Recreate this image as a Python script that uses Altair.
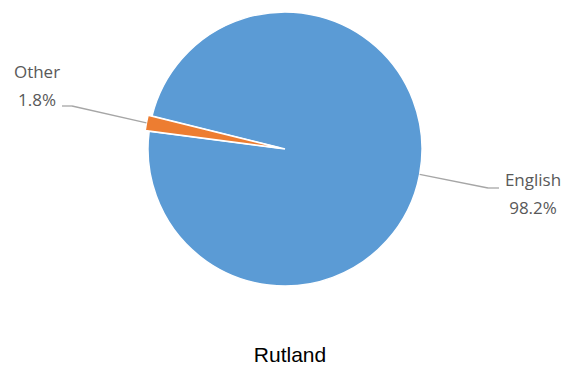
import math
import altair as alt
import pandas as pd

# ---- data ----
categories = ["English", "Other"]
values = [98.2, 1.8]
colors = ["#5B9BD5", "#ED7D31"]
chart_title = "Rutland"

# ---- layout (chart coordinates = page coordinates - 8) ----
W, H = 557, 360
CX, CY, R = 277, 141, 137
ROT_DEG = 283.9            # where the first slice starts (clockwise from 12 o'clock)
EXPLODE = 4                # px offset of the small slice
LABEL_COLOR = "#595959"
LINE_COLOR = "#A6A6A6"
FONT = "Open Sans"
FS = 17

total = sum(values)
starts, ends = [], []
acc = 0.0
for v in values:
    starts.append(acc)
    acc += v
    ends.append(acc)
df = pd.DataFrame({"cat": categories, "value": values, "start": starts, "end": ends,
                   "pct": [f"{v:.1f}%" for v in values]})

rot = math.radians(ROT_DEG)
theta_scale = alt.Scale(domain=[0, total], range=[rot, rot + 2 * math.pi])
color_scale = alt.Scale(domain=categories, range=colors)


def mid_angle(i):
    return rot + 2 * math.pi * (starts[i] + ends[i]) / 2 / total


layers = []
for i, c in enumerate(categories):
    a = mid_angle(i)
    off = EXPLODE if values[i] < 10 else 0
    dx, dy = off * math.sin(a), -off * math.cos(a)
    layers.append(
        alt.Chart(df).transform_filter(alt.datum.cat == c)
        .mark_arc(radius=R, stroke="white", strokeWidth=1.5)
        .encode(
            theta=alt.Theta("start:Q", scale=theta_scale, stack=None),
            theta2="end:Q",
            color=alt.Color("cat:N", scale=color_scale, legend=None),
            x=alt.value(CX + dx),
            y=alt.value(CY + dy),
        )
    )

# leader lines + labels
label_pos = {"English": (525, 173, 480, 180, 491), "Other": (29, 65, 64, 98, 54)}
for i, c in enumerate(categories):
    a = mid_angle(i)
    off = EXPLODE if values[i] < 10 else 0
    ex = CX + (R + off) * math.sin(a)
    ey = CY - (R + off) * math.cos(a)
    lx, ly, elx, ely, endx = label_pos[c]
    seg1 = alt.Chart(df).transform_filter(alt.datum.cat == c).mark_rule(
        color=LINE_COLOR, strokeWidth=1.3).encode(
        x=alt.value(ex), y=alt.value(ey), x2=alt.value(elx), y2=alt.value(ely))
    seg2 = alt.Chart(df).transform_filter(alt.datum.cat == c).mark_rule(
        color=LINE_COLOR, strokeWidth=1.3).encode(
        x=alt.value(elx), y=alt.value(ely), x2=alt.value(endx), y2=alt.value(ely))
    t1 = alt.Chart(df).transform_filter(alt.datum.cat == c).mark_text(
        font=FONT, fontSize=FS, color=LABEL_COLOR, align="center", baseline="middle").encode(
        text="cat:N", x=alt.value(lx), y=alt.value(ly))
    t2 = alt.Chart(df).transform_filter(alt.datum.cat == c).mark_text(
        font=FONT, fontSize=FS, color=LABEL_COLOR, align="center", baseline="middle").encode(
        text="pct:N", x=alt.value(lx), y=alt.value(ly + 28))
    layers += [seg1, seg2, t1, t2]

title = alt.Chart(pd.DataFrame({"t": [chart_title]})).mark_text(
    font="Liberation Sans", fontSize=21, color="#000000", align="center", baseline="middle").encode(
    text="t:N", x=alt.value(282), y=alt.value(348))
layers.append(title)

chart = alt.layer(*layers).properties(
    width=W, height=H, autosize=alt.AutoSizeParams(type="none"), padding=0,
    background="white",
).configure_view(stroke=None)

chart.save("out.html", embed_options={"renderer": "svg", "actions": False})
